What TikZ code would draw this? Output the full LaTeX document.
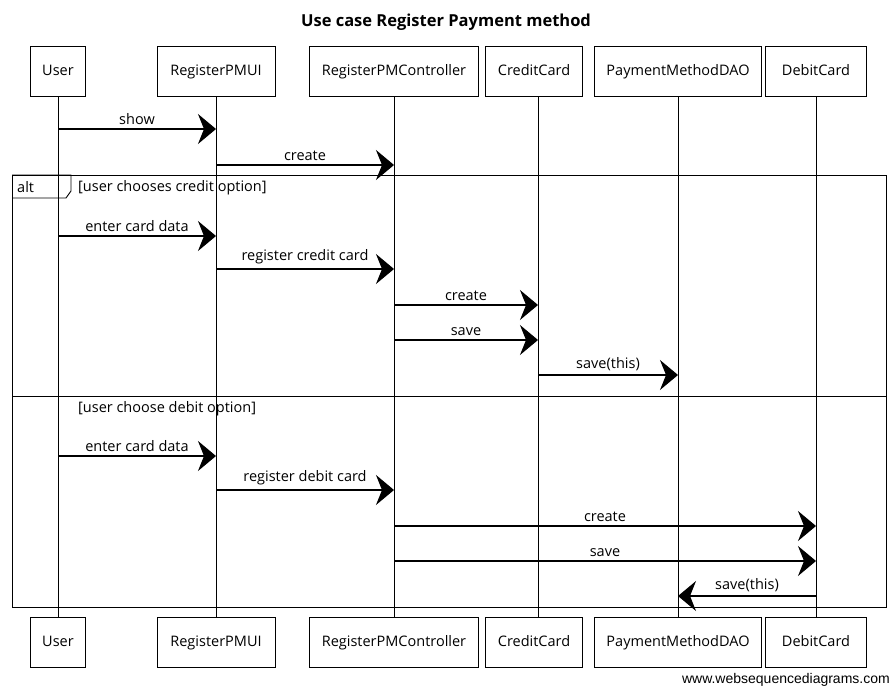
\documentclass[tikz,border=0pt]{standalone}
\usepackage{fontspec}
\setmainfont{Open Sans}
\newfontfamily\footfont{Liberation Sans}
\usetikzlibrary{arrows.meta,calc}
\tikzset{
  actor/.style={draw, line width=0.9pt, minimum height=50pt, inner xsep=4pt, text height=11pt, text depth=3pt, font=\fontsize{14.5}{16}\selectfont, anchor=center},
  life/.style={line width=0.7pt},
  msg/.style={line width=1.1pt, -{Stealth[length=18pt,width=30pt,inset=6pt]}},
  lbl/.style={font=\fontsize{14.5}{17}\selectfont, inner sep=1pt},
  frame/.style={line width=0.9pt},
  guard/.style={font=\fontsize{14.5}{17}\selectfont, anchor=west, inner sep=1pt},
}
\begin{document}
\begin{tikzpicture}[x=1pt,y=-1pt]
\useasboundingbox (0,0) rectangle (893,688);
\node[font=\bfseries\fontsize{16.5}{18}\selectfont] (title) at (446,22) {Use case Register Payment method};
% top actors
\node[actor, minimum width=55pt] (uT) at (58,71) {User};
\node[actor, minimum width=118pt] (iT) at (216,71) {RegisterPMUI};
\node[actor, minimum width=169pt] (cT) at (394,71) {RegisterPMController};
\node[actor, minimum width=97pt] (ccT) at (534,71) {CreditCard};
\node[actor, minimum width=167pt] (dT) at (678,71) {PaymentMethodDAO};
\node[actor, minimum width=101pt] (dcT) at (816,71) {DebitCard};
% bottom actors
\node[actor, minimum width=55pt] (uB) at (58,642) {User};
\node[actor, minimum width=118pt] (iB) at (216,642) {RegisterPMUI};
\node[actor, minimum width=169pt] (cB) at (394,642) {RegisterPMController};
\node[actor, minimum width=97pt] (ccB) at (534,642) {CreditCard};
\node[actor, minimum width=167pt] (dB) at (678,642) {PaymentMethodDAO};
\node[actor, minimum width=101pt] (dcB) at (816,642) {DebitCard};
% lifelines
\draw[life] (uT.south) -- (uB.north);
\draw[life] (iT.south) -- (iB.north);
\draw[life] (cT.south) -- (cB.north);
\draw[life] ($(ccT.south)+(4,0)$) coordinate (ccL) -- (ccL |- ccB.north);
\draw[life] (dT.south) -- (dB.north);
\draw[life] (dcT.south) -- (dcB.north);
% alt frame
\draw[frame] (12,175) rectangle (886,607);
\draw[frame] (12,396) -- (886,396);
\draw[frame] (12,175) -- (71,175) -- (71,191) -- (66,198) -- (12,198);
\node[guard] (alt) at (16,187) {alt};
\node[guard] (g1) at (77,188) {[user chooses credit option]};
\node[guard] (g2) at (77,409) {[user choose debit option]};
% messages
\draw[msg] (uT.south |- 0,129) -- node[lbl, above=3pt] {show} (iT.south |- 0,129);
\draw[msg] (iT.south |- 0,165) -- node[lbl, above=3pt] {create} (cT.south |- 0,165);
\draw[msg] (uT.south |- 0,236) -- node[lbl, above=3pt] {enter card data} (iT.south |- 0,236);
\draw[msg] (iT.south |- 0,269) -- node[lbl, above=3pt] {register credit card} (cT.south |- 0,269);
\draw[msg] (cT.south |- 0,305) -- node[lbl, above=3pt] {create} (ccL |- 0,305);
\draw[msg] (cT.south |- 0,340) -- node[lbl, above=3pt] {save} (ccL |- 0,340);
\draw[msg] (ccL |- 0,375) -- node[lbl, above=3pt] {save(this)} (dT.south |- 0,375);
\draw[msg] (uT.south |- 0,456) -- node[lbl, above=3pt] {enter card data} (iT.south |- 0,456);
\draw[msg] (iT.south |- 0,490) -- node[lbl, above=3pt] {register debit card} (cT.south |- 0,490);
\draw[msg] (cT.south |- 0,526) -- node[lbl, above=3pt] {create} (dcT.south |- 0,526);
\draw[msg] (cT.south |- 0,561) -- node[lbl, above=3pt] {save} (dcT.south |- 0,561);
\draw[msg] (dcT.south |- 0,596) -- node[lbl, above=3pt] {save(this)} (dT.south |- 0,596);
% footer
\node[font=\footfont\fontsize{14}{16}\selectfont, anchor=east, inner sep=0pt] (foot) at (890,680) {www.websequencediagrams.com};
\end{tikzpicture}
\end{document}
